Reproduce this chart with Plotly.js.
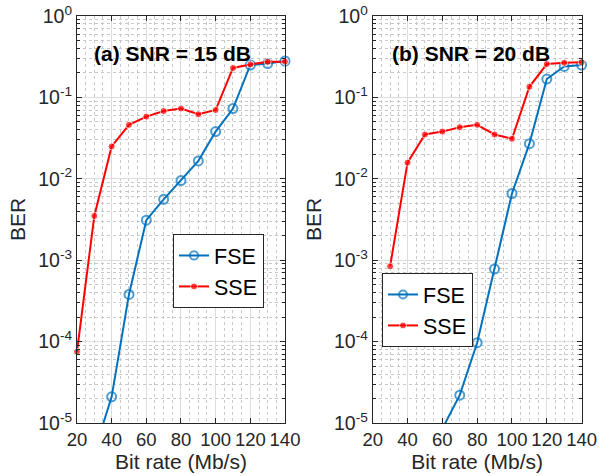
<!DOCTYPE html>
<html>
<head>
<meta charset="utf-8">
<script src="https://cdn.plot.ly/plotly-3.0.1.min.js"></script>
<style>html,body{margin:0;padding:0;background:#fff;}#chart{width:599px;height:476px;}</style>
</head>
<body>
<div id="chart"></div>
<script>
// Panel (a) SNR = 15 dB
const bitRateA_FSE = [30, 40, 50, 60, 70, 80, 90, 100, 110, 120, 130, 140];
const berA_FSE = [4.4e-6, 2.1e-5, 3.8e-4, 3.1e-3, 5.6e-3, 9.5e-3, 0.0166, 0.038, 0.073, 0.25, 0.26, 0.28];
const bitRateA_SSE = [20, 30, 40, 50, 60, 70, 80, 90, 100, 110, 120, 130, 140];
const berA_SSE = [7.5e-5, 3.5e-3, 0.025, 0.046, 0.058, 0.068, 0.073, 0.062, 0.07, 0.23, 0.254, 0.274, 0.275];
// Panel (b) SNR = 20 dB
const bitRateB_FSE = [60, 70, 80, 90, 100, 110, 120, 130, 140];
const berB_FSE = [8.5e-6, 2.2e-5, 9.7e-5, 7.8e-4, 6.6e-3, 0.027, 0.168, 0.24, 0.25];
const bitRateB_SSE = [30, 40, 50, 60, 70, 80, 90, 100, 110, 120, 130, 140];
const berB_SSE = [8.4e-4, 0.0158, 0.035, 0.038, 0.043, 0.046, 0.035, 0.031, 0.135, 0.257, 0.266, 0.27];
const panelTitles = ['(a) SNR = 15 dB', '(b) SNR = 20 dB'];
const xTicks = [20, 40, 60, 80, 100, 120, 140];
const yTickVals = [1e-5, 1e-4, 1e-3, 1e-2, 1e-1, 1];
const yTickText = ['10<sup>-5</sup>', '10<sup>-4</sup>', '10<sup>-3</sup>', '10<sup>-2</sup>', '10<sup>-1</sup>', '10<sup>0</sup>'];

const BLUE = '#0072BD', RED = '#FF0000';
const FONT = 'Liberation Sans, Arial, sans-serif';
const AX = '#262626';
const YMIN = 1e-5;

const minorY = [];
for (let e = -5; e < 0; e++) for (let d = 2; d <= 9; d++) minorY.push(d * Math.pow(10, e));

// markers outside the y range are hidden (size 0) so that unclipped markers never leave the box
function sizes(y, s) { return y.map(v => (v < YMIN ? 0 : s)); }

function fse(x, y, xa, ya, leg) {
  return {x: x, y: y, xaxis: xa, yaxis: ya, name: 'FSE', legend: leg, type: 'scatter', mode: 'lines+markers',
    cliponaxis: false,
    line: {color: BLUE, width: 2}, marker: {symbol: 'circle-open', size: sizes(y, 9), color: BLUE, line: {width: 2, color: BLUE}}};
}
function sse(x, y, xa, ya, leg) {
  return {x: x, y: y, xaxis: xa, yaxis: ya, name: 'SSE', legend: leg, type: 'scatter', mode: 'lines+markers',
    cliponaxis: false,
    line: {color: RED, width: 2}, marker: {symbol: 'circle', size: sizes(y, 7), color: RED}};
}

const data = [
  fse(bitRateA_FSE, berA_FSE, 'x', 'y', 'legend'),
  sse(bitRateA_SSE, berA_SSE, 'x', 'y', 'legend'),
  fse(bitRateB_FSE, berB_FSE, 'x2', 'y2', 'legend2'),
  sse(bitRateB_SSE, berB_SSE, 'x2', 'y2', 'legend2')
];

function xaxis(dom, anchor) {
  return {domain: dom, anchor: anchor, range: [20, 140], tickmode: 'array', tickvals: xTicks,
    showline: true, linecolor: AX, linewidth: 1, mirror: 'ticks', ticks: 'inside', ticklen: 5, tickcolor: AX,
    showgrid: true, gridcolor: '#dcdcdc', gridwidth: 1, zeroline: false, automargin: false,
    tickfont: {family: FONT, size: 18.5, color: AX},
    minor: {dtick: 5, showgrid: true, gridcolor: '#c8c8c8', griddash: 'dot', gridwidth: 1, ticks: ''},
    title: {text: 'Bit rate (Mb/s)', font: {family: FONT, size: 21, color: AX}, standoff: 5}};
}
function yaxis(anchor) {
  return {type: 'log', domain: [0.1113, 0.9664], anchor: anchor, range: [-5, 0], tickmode: 'array',
    tickvals: yTickVals, ticktext: yTickText,
    showline: true, linecolor: AX, linewidth: 1, mirror: 'ticks', ticks: 'inside', ticklen: 5, tickcolor: AX,
    showgrid: true, gridcolor: '#dcdcdc', gridwidth: 1, zeroline: false, automargin: false,
    tickfont: {family: FONT, size: 19.5, color: AX},
    minor: {tickmode: 'array', tickvals: minorY, showgrid: true, gridcolor: '#c8c8c8', griddash: 'dot', gridwidth: 1,
      ticks: 'inside', ticklen: 3, tickcolor: AX},
    title: {text: 'BER', font: {family: FONT, size: 21, color: AX}, standoff: 6}};
}

const legendStyle = {bgcolor: '#ffffff', bordercolor: AX, borderwidth: 1, font: {family: FONT, size: 21.5, color: '#000'},
  xref: 'paper', yref: 'paper', xanchor: 'left', yanchor: 'top', tracegroupgap: 0, itemwidth: 30};

const layout = {
  width: 599, height: 476,
  margin: {l: 0, r: 0, t: 0, b: 0},
  paper_bgcolor: '#ffffff', plot_bgcolor: '#ffffff',
  font: {family: FONT},
  xaxis: xaxis([0.1285, 0.4758], 'y'),
  yaxis: yaxis('x'),
  xaxis2: xaxis([0.6222, 0.9710], 'y2'),
  yaxis2: yaxis('x2'),
  legend: Object.assign({}, legendStyle, {x: 173 / 599, y: (476 - 234) / 476}),
  legend2: Object.assign({}, legendStyle, {x: 382 / 599, y: (476 - 273) / 476}),
  annotations: [
    {text: '<b>' + panelTitles[0] + '</b>', xref: 'x domain', yref: 'y domain', x: 0.46, y: 0.94, showarrow: false,
     font: {family: FONT, size: 21, color: '#000'}},
    {text: '<b>' + panelTitles[1] + '</b>', xref: 'x2 domain', yref: 'y2 domain', x: 0.47, y: 0.94, showarrow: false,
     font: {family: FONT, size: 21, color: '#000'}}
  ],
  showlegend: true
};

Plotly.newPlot('chart', data, layout, {staticPlot: true, displayModeBar: false});
</script>
</body>
</html>
